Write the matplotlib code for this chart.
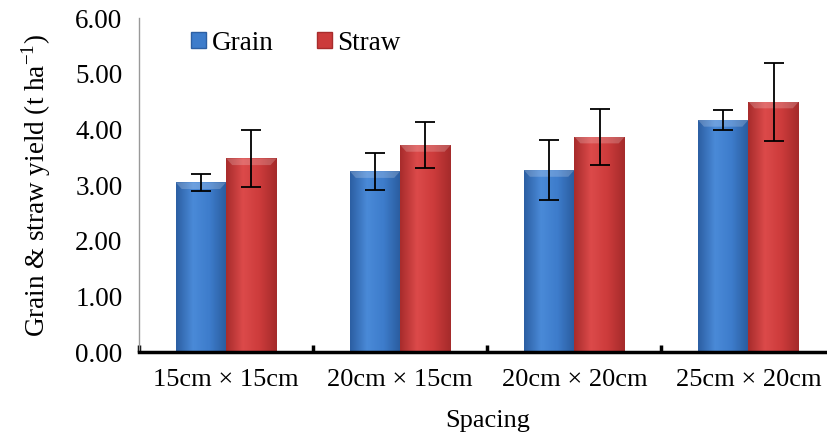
import numpy as np
import matplotlib.pyplot as plt
from matplotlib.colors import LinearSegmentedColormap
from matplotlib.patches import Patch

plt.rcParams['font.family'] = ['Liberation Serif', 'DejaVu Serif']

spacing = ['15cm × 15cm', '20cm × 15cm', '20cm × 20cm', '25cm × 20cm']
grain = [3.05, 3.25, 3.27, 4.17]
grain_err = [0.15, 0.33, 0.54, 0.18]
straw = [3.48, 3.72, 3.87, 4.50]
straw_err = [0.51, 0.41, 0.50, 0.70]

blue = ['#2c5fa3', '#4a8ad8', '#3d7ccb', '#2a5c9e']
red = ['#a82c2c', '#dc4a4a', '#cc3b3b', '#a52b2b']


def gradient_bars(ax, bars, cols):
    cmap = LinearSegmentedColormap.from_list('g', cols)
    grad = np.linspace(0, 1, 64).reshape(1, -1)
    for b in bars:
        x, y = b.get_x(), b.get_y()
        w, h = b.get_width(), b.get_height()
        b.set_facecolor('none')
        b.set_edgecolor('none')
        im = ax.imshow(grad, cmap=cmap, aspect='auto', extent=[x, x + w, y, y + h],
                       zorder=2, interpolation='bicubic')
        im.set_clip_path(b)
        # bevel highlight at top
        ax.fill([x, x + w, x + w * 0.88, x + w * 0.12], [y + h, y + h, y + h - 0.12, y + h - 0.12],
                color='white', alpha=0.2, lw=0, zorder=2.5)


fig = plt.figure(figsize=(8.28, 4.32), dpi=100)
ax = fig.add_axes([0.168, 0.185, 0.841, 0.773])

x = np.arange(len(spacing))
w = 0.29
b1 = ax.bar(x - w / 2, grain, w, zorder=2)
b2 = ax.bar(x + w / 2, straw, w, zorder=2)
gradient_bars(ax, b1, blue)
gradient_bars(ax, b2, red)
ax.errorbar(x - w / 2, grain, yerr=grain_err, fmt='none', ecolor='black', elinewidth=1.3,
            capsize=7, capthick=1.3, zorder=4)
ax.errorbar(x + w / 2, straw, yerr=straw_err, fmt='none', ecolor='black', elinewidth=1.3,
            capsize=7, capthick=1.3, zorder=4)

ax.set_xlim(-0.5, 3.5)
ax.set_ylim(0, 6)
ax.set_yticks(np.arange(0, 7, 1))
ax.set_yticklabels(['%.2f' % v for v in np.arange(0, 7, 1)], fontsize=19.5)
ax.set_xticks(x)
ax.set_xticklabels(spacing, fontsize=19)
ax.set_xticks(np.arange(-0.5, 4, 1), minor=True)
ax.tick_params(axis='x', which='major', length=0, pad=12)
ax.tick_params(axis='x', which='minor', direction='in', length=5, width=2.5)
ax.tick_params(axis='y', length=0, pad=12)

for s in ['top', 'right']:
    ax.spines[s].set_visible(False)
ax.spines['left'].set_color('#999999')
ax.spines['left'].set_linewidth(1)
ax.spines['bottom'].set_linewidth(2.5)

ax.set_ylabel('Grain & straw yield (t ha$^{\\mathregular{-1}}$)', fontsize=19.5, labelpad=16)
ax.set_xlabel('Spacing', fontsize=19, labelpad=14)

handles = [Patch(facecolor='#3d7ccb', edgecolor='#2c5fa3'), Patch(facecolor='#cc3b3b', edgecolor='#a82c2c')]
ax.legend(handles, ['Grain', 'Straw'], ncol=2, frameon=False, fontsize=19.5,
          loc='upper left', bbox_to_anchor=(0.04, 1.035), handlelength=0.55, handleheight=0.55,
          handletextpad=0.2, columnspacing=1.6)

fig.savefig('out.png', dpi=100)
